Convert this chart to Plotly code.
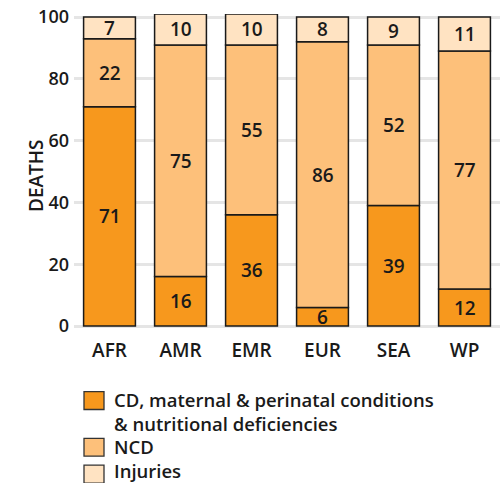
import plotly.graph_objects as go

# Regional share of deaths by cause group (%)
regions = ["AFR", "AMR", "EMR", "EUR", "SEA", "WP"]
cd_maternal = [71, 16, 36, 6, 39, 12]
ncd = [22, 75, 55, 86, 52, 77]
injuries = [7, 10, 10, 8, 9, 11]

series_names = [
    "CD, maternal & perinatal conditions<br>& nutritional deficiencies",
    "NCD",
    "Injuries",
]
series_values = [cd_maternal, ncd, injuries]
series_colors = ["#F7981D", "#FDC07A", "#FFE3C2"]

y_ticks = [0, 20, 40, 60, 80, 100]

FONT = "Open Sans"
INK = "#1a1a1a"
TXT = dict(family=FONT, size=19, color=INK, weight=600)
LEG = dict(family=FONT, size=18.5, color=INK, weight=600)

W, H = 504, 483
ML, MR, MT, MB = 74, 4, 12, 152
PW, PH = W - ML - MR, H - MT - MB


def paper_x(px):
    return (px - ML) / PW


def paper_y(py):
    return (H - MB - py) / PH


fig = go.Figure()
annotations = []

base = [0] * len(regions)
for name, vals, color in zip(series_names, series_values, series_colors):
    fig.add_trace(
        go.Bar(
            x=regions,
            y=vals,
            base=base,
            name=name,
            marker=dict(color=color, line=dict(color=INK, width=1.5)),
            showlegend=False,
        )
    )
    # value labels centred in each segment
    for reg, b, v in zip(regions, base, vals):
        annotations.append(
            dict(
                x=reg, y=b + v / 2, xref="x", yref="y",
                text=str(v), showarrow=False,
                font=TXT,
                xanchor="center", yanchor="middle",
            )
        )
    base = [b + v for b, v in zip(base, vals)]

# legend drawn as swatches plus text below the plot
shapes = []
legend_rows = [(392, 410, 412), (439, 457, 447), (466, 484, 471)]
for (top, bot, text_mid), name, color in zip(legend_rows, series_names, series_colors):
    shapes.append(
        dict(
            type="rect", xref="paper", yref="paper",
            x0=paper_x(84), x1=paper_x(104),
            y0=paper_y(bot), y1=paper_y(top),
            fillcolor=color, line=dict(color="#333333", width=1.3),
            layer="above",
        )
    )
    annotations.append(
        dict(
            x=paper_x(112), y=paper_y(text_mid), xref="paper", yref="paper",
            text=name, showarrow=False, align="left",
            xanchor="left", yanchor="middle",
            font=LEG,
        )
    )

# vertical axis title
annotations.append(
    dict(
        x=paper_x(36), y=paper_y(175), xref="paper", yref="paper",
        text="DEATHS", textangle=-90, showarrow=False,
        xanchor="center", yanchor="middle",
        font=dict(family=FONT, size=19, color=INK, weight=600),
    )
)

fig.update_layout(
    width=W, height=H,
    margin=dict(l=ML, r=MR, t=MT, b=MB),
    paper_bgcolor="white", plot_bgcolor="white",
    barmode="overlay",
    bargap=0.27,
    font=dict(family=FONT, size=18, color=INK),
    annotations=annotations,
    shapes=shapes,
    showlegend=False,
)

fig.update_xaxes(
    range=[-0.5, 5.5],
    showgrid=False, zeroline=False, showline=False,
    ticks="", tickfont=TXT,
    ticklabelstandoff=6,
)
fig.update_yaxes(
    range=[-1.6, 101],
    tickvals=y_ticks,
    showgrid=True, gridcolor="#E5E5E5", gridwidth=3,
    zeroline=False, showline=False, ticks="",
    tickfont=dict(family=FONT, size=18, color=INK, weight=600),
    ticklabelstandoff=4,
)

fig.write_html("out.html")
